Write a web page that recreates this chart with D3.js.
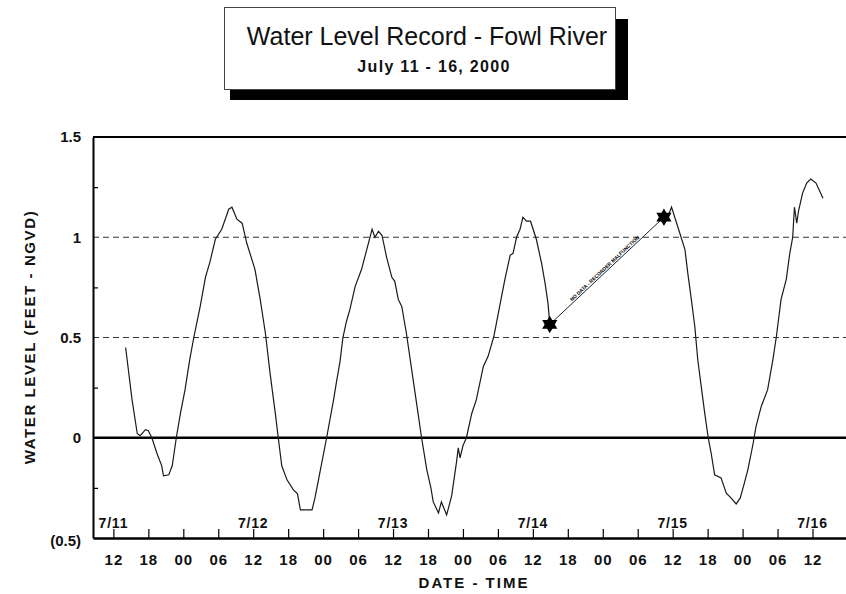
<!DOCTYPE html>
<html>
<head>
<meta charset="utf-8">
<script src="https://cdn.jsdelivr.net/npm/d3@7"></script>
<style>
body { margin: 0; background: #fff; }
svg { font-family: Arial, "Liberation Sans", sans-serif; }
</style>
</head>
<body>
<svg id="chart" width="846" height="594"></svg>
<script>

// hours after 7/11/2000 00:00 and water level (ft NGVD)
var hours1 = [14.1, 15.2, 16.1, 16.6, 17.5, 18.0, 18.6, 19.5, 20.3, 20.6, 21.5, 22.1, 22.8, 23.5, 24.3, 25.1, 25.8, 26.3, 26.9, 27.8,
              28.6, 29.5, 30.6, 31.8, 32.35, 33.2, 34.1, 34.9, 36.3, 37.2, 38.1, 38.9, 39.8, 40.3, 40.9, 41.8, 42.9, 43.6, 44.1, 46.1,
              46.6, 47.2, 48.6, 49.8, 50.3, 50.9, 51.4, 52.0, 52.6, 53.5, 54.6, 55.5, 56.4, 56.9, 57.5, 58.1, 58.9, 59.8, 60.3, 60.9,
              61.5, 62.3, 63.2, 64.1, 64.9, 65.8, 66.5, 66.9, 67.8, 68.3, 69.2, 70.06, 70.9, 71.2, 71.5, 72.0, 72.6, 73.5, 74.3, 75.5,
              76.3, 77.3, 78.3, 79.2, 80.1, 80.6, 81.2, 81.8, 82.3, 82.9, 83.6, 84.6, 85.5, 86.1, 86.6, 86.9]
var level1 = [0.45, 0.19, 0.02, 0.01, 0.04, 0.035, 0.0, -0.08, -0.14, -0.19, -0.185, -0.14, 0.0, 0.12, 0.24, 0.39, 0.5, 0.57, 0.655, 0.8,
              0.88, 0.99, 1.04, 1.14, 1.15, 1.09, 1.07, 0.97, 0.84, 0.69, 0.52, 0.32, 0.12, 0.0, -0.14, -0.21, -0.26, -0.28, -0.36, -0.36,
              -0.3, -0.21, 0.0, 0.19, 0.28, 0.38, 0.5, 0.58, 0.64, 0.755, 0.84, 0.94, 1.04, 1.0, 1.03, 1.01, 0.9, 0.8, 0.78, 0.69,
              0.655, 0.52, 0.34, 0.16, 0.0, -0.16, -0.25, -0.32, -0.375, -0.32, -0.385, -0.29, -0.12, -0.05, -0.1, -0.04, 0.0, 0.12, 0.19, 0.356,
              0.405, 0.505, 0.655, 0.79, 0.91, 0.92, 1.0, 1.04, 1.1, 1.08, 1.08, 0.99, 0.87, 0.77, 0.67, 0.57]

var hours2 = [107.4, 107.8, 108.9, 110.1, 110.6, 111.2, 111.8, 112.3, 112.9, 113.5, 114.1, 114.6, 115.2, 116.3, 117.2, 118.0, 118.9, 119.6,
              120.3, 120.9, 121.8, 122.3, 123.2, 124.3, 125.2, 125.8, 126.6, 127.5, 128.1, 128.6, 128.9, 129.3, 129.6, 130.3, 131.0, 131.7,
              132.6, 133.8]
var level2 = [1.12, 1.15, 1.05, 0.94, 0.82, 0.69, 0.555, 0.39, 0.256, 0.123, 0.0, -0.076, -0.185, -0.2, -0.276, -0.3, -0.33, -0.3,
              -0.226, -0.16, -0.03, 0.056, 0.156, 0.24, 0.39, 0.505, 0.69, 0.79, 0.92, 1.0, 1.15, 1.07, 1.13, 1.22, 1.27, 1.29,
              1.27, 1.195]

// missing record, joined by a straight line between the two star markers
var gapHours = [86.9, 106.5]
var gapLevel = [0.565, 1.10]
var gapNote = "NO DATA - RECORDER MALFUNCTION"

var yTicks = [1.5, 1, 0.5, 0, -0.5]
var yTickLabels = ["1.5", "1", "0.5", "0", "(0.5)"]
var yMinor = [1.25, 0.75, 0.25, -0.25]
var gridLevels = [1, 0.5]

var title = "Water Level Record - Fowl River"
var subtitle = "July 11 - 16, 2000"
var yTitle = "WATER LEVEL (FEET - NGVD)"
var xTitle = "DATE - TIME"

var start = new Date(2000, 6, 11)
function t(h) { return new Date(+start + h * 3600000) }

var svg = d3.select('#chart')

var x = d3.scaleTime()
            .domain([t(8.5), t(137.75)])
            .range([93, 846])

var y = d3.scaleLinear()
            .domain([-0.5, 1.5])
            .range([538, 137])

// title box with drop shadow
var head = svg.append("g")

head.append("rect")
        .attr("x", 230)
        .attr("y", 19)
        .attr("width", 398)
        .attr("height", 81)
        .attr("fill", "#000")

head.append("rect")
        .attr("x", 224.5)
        .attr("y", 7.5)
        .attr("width", 391)
        .attr("height", 82)
        .attr("fill", "#fff")
        .attr("stroke", "#444")
        .attr("stroke-width", 1)

head.append("text")
        .attr("x", 427)
        .attr("y", 45)
        .attr("text-anchor", "middle")
        .attr("font-size", "25px")
        .attr("fill", "#111")
        .text(title)

head.append("text")
        .attr("x", 434)
        .attr("y", 72)
        .attr("text-anchor", "middle")
        .attr("font-size", "16px")
        .attr("font-weight", "bold")
        .attr("letter-spacing", "1.3px")
        .attr("fill", "#111")
        .text(subtitle)

// dashed reference lines and the zero line
svg.append("g")
        .selectAll("line")
        .data(gridLevels)
        .enter().append("line")
        .attr("x1", x.range()[0])
        .attr("x2", x.range()[1])
        .attr("y1", function(d) { return y(d) })
        .attr("y2", function(d) { return y(d) })
        .attr("stroke", "#333")
        .attr("stroke-width", 1.2)
        .attr("stroke-dasharray", "6,4")

svg.append("line")
        .attr("x1", x.range()[0])
        .attr("x2", x.range()[1])
        .attr("y1", y(0))
        .attr("y2", y(0))
        .attr("stroke", "#000")
        .attr("stroke-width", 2.5)

// top frame line
svg.append("line")
        .attr("x1", x.range()[0])
        .attr("x2", x.range()[1])
        .attr("y1", y(1.5))
        .attr("y2", y(1.5))
        .attr("stroke", "#000")
        .attr("stroke-width", 2)

// y axis
var yAxis = svg.append("g")
                .attr("transform", "translate(" + x.range()[0] + ",0)")
                .call(d3.axisLeft(y)
                        .tickValues(yTicks)
                        .tickFormat(function(d, i) { return yTickLabels[i] })
                        .tickSize(0)
                        .tickPadding(12))

yAxis.select(".domain").attr("stroke-width", 2)
yAxis.selectAll("text")
        .attr("font-size", "15px")
        .attr("font-weight", "bold")
        .attr("fill", "#111")
        .attr("font-family", "Arial, 'Liberation Sans', sans-serif")
yAxis.selectAll(".tick").filter(function(d) { return d == -0.5 })
        .select("text").attr("y", 3)

svg.append("g")
        .attr("transform", "translate(" + x.range()[0] + ",0)")
        .call(d3.axisLeft(y).tickValues(yMinor).tickSize(-5).tickFormat(""))
        .call(function(g) { g.select(".domain").remove() })
        .selectAll("line").attr("stroke-width", 1.2)

// x axis, 6 hour ticks pointing inward
var xTicks = x.ticks(d3.timeHour.every(6))

var xAxis = svg.append("g")
                .attr("transform", "translate(0," + y.range()[0] + ")")
                .call(d3.axisBottom(x)
                        .tickValues(xTicks)
                        .tickFormat(d3.timeFormat("%H"))
                        .tickSizeInner(-9)
                        .tickSizeOuter(0)
                        .tickPadding(16))

xAxis.select(".domain").attr("stroke-width", 2.5)
xAxis.selectAll(".tick line").attr("stroke-width", 1.2)
xAxis.selectAll("text")
        .attr("font-size", "15px")
        .attr("font-weight", "bold")
        .attr("letter-spacing", "1px")
        .attr("fill", "#111")
        .attr("font-family", "Arial, 'Liberation Sans', sans-serif")

// date labels at noon
svg.append("g")
        .selectAll("text")
        .data(xTicks.filter(function(d) { return d.getHours() == 12 }))
        .enter().append("text")
        .attr("x", function(d) { return x(d) })
        .attr("y", 528)
        .attr("text-anchor", "middle")
        .attr("font-size", "14px")
        .attr("font-weight", "bold")
        .attr("letter-spacing", "0.8px")
        .attr("fill", "#111")
        .text(d3.timeFormat("%-m/%-d"))

// axis titles
svg.append("text")
        .attr("transform", "translate(35,337) rotate(-90)")
        .attr("text-anchor", "middle")
        .attr("font-size", "15px")
        .attr("font-weight", "bold")
        .attr("letter-spacing", "1.6px")
        .attr("fill", "#111")
        .text(yTitle)

svg.append("text")
        .attr("x", 474)
        .attr("y", 588)
        .attr("text-anchor", "middle")
        .attr("font-size", "15px")
        .attr("font-weight", "bold")
        .attr("letter-spacing", "2px")
        .attr("fill", "#111")
        .text(xTitle)

// water level record
var line = d3.line()
                .x(function(d) { return x(t(d[0])) })
                .y(function(d) { return y(d[1]) })

var segs = [d3.zip(hours1, level1), d3.zip(hours2, level2)]

svg.append("g")
        .selectAll("path")
        .data(segs)
        .enter().append("path")
        .attr("d", line)
        .attr("fill", "none")
        .attr("stroke", "#1a1a1a")
        .attr("stroke-width", 1.2)

// gap connector, note and star markers
var gap = d3.zip(gapHours, gapLevel)

svg.append("path")
        .attr("d", line(gap))
        .attr("stroke", "#222")
        .attr("stroke-width", 1)

var gx1 = x(t(gapHours[0])), gy1 = y(gapLevel[0])
var gx2 = x(t(gapHours[1])), gy2 = y(gapLevel[1])
var ang = Math.atan2(gy2 - gy1, gx2 - gx1) * 180 / Math.PI

svg.append("text")
        .attr("transform", "translate(" + ((gx1 + gx2) / 2) + "," + ((gy1 + gy2) / 2) + ") rotate(" + ang + ")")
        .attr("y", -1.5)
        .attr("text-anchor", "middle")
        .attr("font-size", "5px")
        .attr("font-weight", "bold")
        .attr("fill", "#000")
        .text(gapNote)

var tri = d3.symbol().type(d3.symbolTriangle).size(100)

var stars = svg.append("g")
                .selectAll("g")
                .data(gap)
                .enter().append("g")
                .attr("transform", function(d) { return "translate(" + x(t(d[0])) + "," + y(d[1]) + ")" })

stars.append("path").attr("d", tri).attr("fill", "#000")
stars.append("path").attr("d", tri).attr("transform", "rotate(180)").attr("fill", "#000")

</script>
</body>
</html>
